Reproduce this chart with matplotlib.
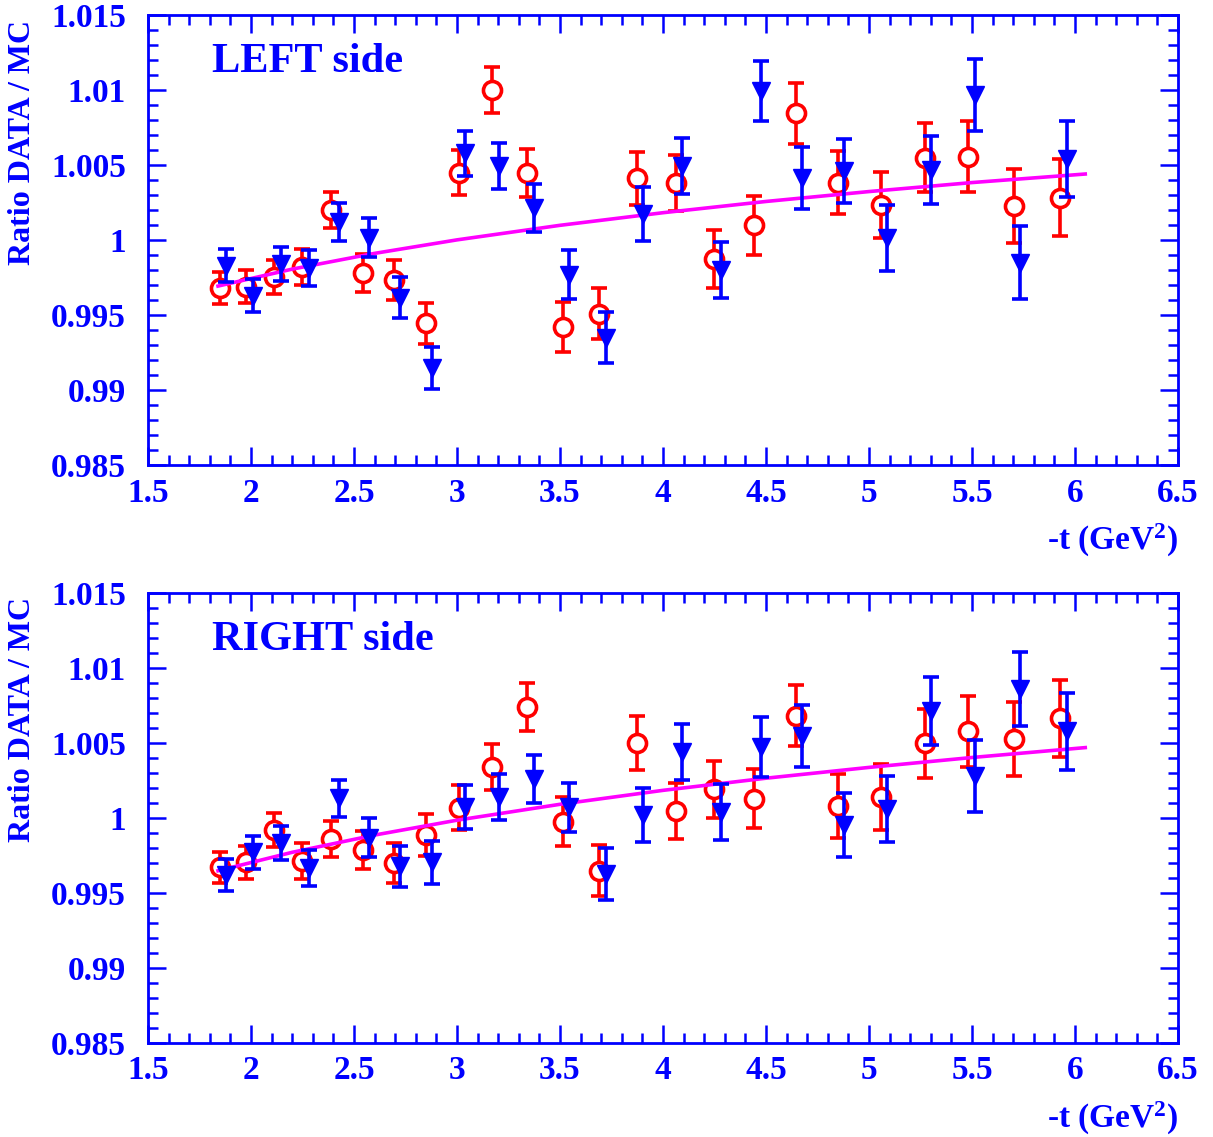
import matplotlib
matplotlib.use('Agg')
import matplotlib.pyplot as plt
from matplotlib.ticker import MultipleLocator

plt.rcParams['font.family'] = ['Liberation Serif', 'DejaVu Serif']
plt.rcParams['font.weight'] = 'bold'
plt.rcParams['mathtext.fontset'] = 'custom'
plt.rcParams['mathtext.rm'] = 'Liberation Serif:bold'
plt.rcParams['mathtext.bf'] = 'Liberation Serif:bold'
plt.rcParams['mathtext.it'] = 'Liberation Serif:bold'

# -t values (GeV^2)
red_t = [1.848, 1.977, 2.112, 2.248, 2.390, 2.544, 2.694, 2.851, 3.011, 3.171, 3.341, 3.516,
         3.691, 3.872, 4.062, 4.249, 4.443, 4.644, 4.848, 5.057, 5.272, 5.482, 5.704, 5.927]
blue_t = [1.880, 2.010, 2.144, 2.282, 2.426, 2.573, 2.725, 2.879, 3.039, 3.204, 3.374, 3.544,
          3.722, 3.904, 4.091, 4.282, 4.476, 4.676, 4.879, 5.086, 5.300, 5.515, 5.733, 5.960]

# errors (same for both sides)
red_err = [0.00105, 0.00111, 0.00113, 0.00120, 0.00123, 0.00127, 0.00133, 0.00138, 0.00150, 0.00153,
           0.00159, 0.00165, 0.00170, 0.00178, 0.00185, 0.00192, 0.00198, 0.00205, 0.00212, 0.00220,
           0.00228, 0.00238, 0.00247, 0.00257]
blue_err = [0.00108, 0.00110, 0.00113, 0.00120, 0.00125, 0.00130, 0.00137, 0.00142, 0.00149, 0.00153,
            0.00160, 0.00163, 0.00172, 0.00180, 0.00187, 0.00189, 0.00199, 0.00208, 0.00213, 0.00220,
            0.00228, 0.00238, 0.00245, 0.00255]

# LEFT side
left_red = [0.99680, 0.99688, 0.99755, 0.99822, 1.00200, 0.99778, 0.99733, 0.99445, 1.00449, 1.00998,
            1.00448, 0.99420, 0.99508, 1.00411, 1.00381, 0.99875, 1.00098, 1.00845, 1.00383, 1.00235,
            1.00550, 1.00555, 1.00225, 1.00283]
left_blue = [0.99830, 0.99628, 0.99841, 0.99813, 1.00120, 1.00015, 0.99615, 0.99147, 1.00578, 1.00491,
             1.00212, 0.99770, 0.99350, 1.00175, 1.00491, 0.99800, 1.00995, 1.00415, 1.00458, 1.00013,
             1.00468, 1.00967, 0.99849, 1.00539]
left_fit_t = [1.84, 2.2, 2.6, 3.0, 3.5, 4.0, 4.5, 5.0, 5.5, 6.05]
left_fit = [0.99693, 0.99806, 0.99911, 1.00001, 1.00098, 1.00182, 1.00257, 1.00323, 1.00383, 1.00440]

# RIGHT side
right_red = [0.99671, 0.99705, 0.99918, 0.99715, 0.99860, 0.99785, 0.99702, 0.99887, 1.00067, 1.00339,
             1.00741, 0.99975, 0.99648, 1.00500, 1.00045, 1.00190, 1.00128, 1.00683, 1.00081, 1.00142,
             1.00497, 1.00578, 1.00525, 1.00665]
right_blue = [0.99620, 0.99771, 0.99834, 0.99667, 1.00131, 0.99868, 0.99678, 0.99705, 1.00073, 1.00142,
              1.00259, 1.00072, 0.99625, 1.00023, 1.00442, 1.00039, 1.00475, 1.00545, 0.99953, 1.00058,
              1.00715, 1.00281, 1.00859, 1.00578]
right_fit_t = [1.84, 2.2, 2.6, 3.0, 3.5, 4.0, 4.5, 5.0, 5.5, 6.05]
right_fit = [0.99648, 0.99771, 0.99886, 0.99985, 1.00091, 1.00184, 1.00265, 1.00337, 1.00403, 1.00469]

BLUE = '#0000ff'
RED = '#ff0000'
MAG = '#ff00ff'

fig = plt.figure(figsize=(12.13, 11.37), dpi=100)
ax1 = fig.add_axes([0.1220, 0.5910, 0.8491, 0.3958])
ax2 = fig.add_axes([0.1220, 0.0827, 0.8491, 0.3958])

panels = [(ax1, 'LEFT side', left_red, left_blue, left_fit_t, left_fit),
          (ax2, 'RIGHT side', right_red, right_blue, right_fit_t, right_fit)]

for ax, label, r, b, ft, fy in panels:
    ax.errorbar(red_t, r, yerr=red_err, fmt='o', color=RED, mfc='white', mec=RED,
                ms=13, mew=2.6, elinewidth=2.6, capsize=6, capthick=2.6, zorder=2)
    ax.plot(ft, fy, color=MAG, lw=2.6, zorder=3)
    ax.errorbar(blue_t, b, yerr=blue_err, fmt='none', ecolor=BLUE,
                elinewidth=2.6, capsize=6, capthick=2.6, zorder=4)
    ax.plot(blue_t, b, 'v', color=BLUE, ms=13, zorder=5)

    ax.set_xlim(1.5, 6.5)
    ax.set_ylim(0.985, 1.015)
    ax.xaxis.set_minor_locator(MultipleLocator(0.1))
    ax.yaxis.set_minor_locator(MultipleLocator(0.001))
    ax.set_yticks([0.985, 0.99, 0.995, 1.0, 1.005, 1.01, 1.015])
    ax.set_yticklabels(['0.985', '0.99', '0.995', '1', '1.005', '1.01', '1.015'])
    ax.set_xticks([1.5, 2, 2.5, 3, 3.5, 4, 4.5, 5, 5.5, 6, 6.5])
    ax.set_xticklabels(['1.5', '2', '2.5', '3', '3.5', '4', '4.5', '5', '5.5', '6', '6.5'])

    for sp in ax.spines.values():
        sp.set_color(BLUE)
        sp.set_linewidth(2)
    ax.tick_params(which='both', direction='in', top=True, right=True, color=BLUE,
                   labelcolor=BLUE, labelsize=24, width=1.8)
    ax.tick_params(which='major', length=13)
    ax.tick_params(which='minor', length=7)
    ax.tick_params(axis='y', pad=16)
    ax.tick_params(axis='x', pad=9)
    for t in ax.get_xticklabels() + ax.get_yticklabels():
        t.set_fontweight('bold')

    ax.text(0.062, 0.896, label, transform=ax.transAxes, color=BLUE, fontsize=30.5,
            fontweight='bold', ha='left', va='center')
    ax.text(-0.1214, 0.99, 'Ratio DATA / MC', transform=ax.transAxes, color=BLUE,
            fontsize=23, fontweight='bold', rotation=90, ha='center', va='top')
    ax.text(1.0, -0.167, '-t (GeV$^{\\mathbf{2}}$)', transform=ax.transAxes, color=BLUE,
            fontsize=24, fontweight='bold', ha='right', va='center')

fig.savefig('out.png', dpi=100)
